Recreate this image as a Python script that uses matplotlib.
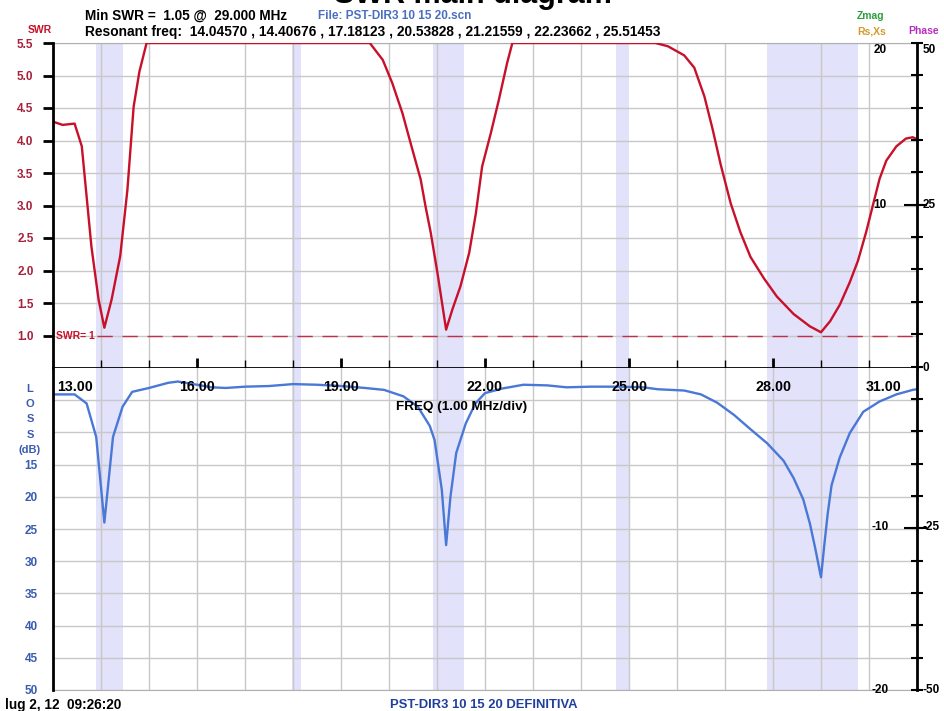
import matplotlib
matplotlib.use('Agg')
import matplotlib.pyplot as plt
import numpy as np

plt.rcParams['font.family'] = ['Liberation Sans', 'DejaVu Sans']
plt.rcParams['font.weight'] = 'bold'

# ---------- dati ----------
swr_freq = [13.0, 13.2, 13.45, 13.6, 13.7, 13.8, 13.95, 14.07, 14.22, 14.4, 14.55, 14.68,
            14.8, 14.95, 19.6, 19.87, 20.07, 20.28, 20.45, 20.66, 20.76, 20.87, 21.01,
            21.19, 21.32, 21.49, 21.67, 21.81, 21.94, 22.12, 22.29, 22.46, 22.57, 25.55,
            25.81, 26.15, 26.36, 26.57, 26.74, 26.91, 27.12, 27.32, 27.53, 27.81, 28.08,
            28.43, 28.77, 29.0, 29.19, 29.39, 29.6, 29.77, 29.94, 30.08, 30.22, 30.36,
            30.57, 30.77, 30.91, 31.0]
swr_vals = [4.29, 4.24, 4.26, 3.91, 3.14, 2.37, 1.55, 1.12, 1.55, 2.22, 3.24, 4.52,
            5.06, 5.5, 5.5, 5.24, 4.88, 4.42, 3.96, 3.4, 2.99, 2.58, 1.96,
            1.09, 1.4, 1.76, 2.27, 2.88, 3.6, 4.11, 4.63, 5.19, 5.5, 5.5,
            5.45, 5.31, 5.12, 4.68, 4.18, 3.63, 3.03, 2.59, 2.21, 1.88, 1.6,
            1.33, 1.14, 1.05, 1.22, 1.47, 1.82, 2.15, 2.59, 3.0, 3.41, 3.69,
            3.91, 4.03, 4.05, 4.02]

loss_freq = [13.0, 13.45, 13.7, 13.9, 14.07, 14.25, 14.45, 14.65, 15.0, 15.4, 15.6, 16.0,
             16.3, 16.6, 17.0, 17.5, 18.0, 18.5, 19.0, 19.5, 19.9, 20.3, 20.6, 20.85,
             20.95, 21.1, 21.19, 21.28, 21.4, 21.6, 21.8, 22.0, 22.35, 22.8, 23.3, 23.7,
             24.2, 24.8, 25.3, 25.6, 26.15, 26.5, 26.84, 27.19, 27.53, 27.88, 28.22,
             28.43, 28.63, 28.77, 28.88, 29.0, 29.07, 29.14, 29.22, 29.39, 29.6, 29.88,
             30.22, 30.57, 30.91, 31.0]
loss_vals = [4.1, 4.1, 5.5, 10.7, 24.0, 10.7, 6.0, 3.7, 3.1, 2.3, 2.1, 2.6,
             3.0, 3.1, 2.9, 2.8, 2.5, 2.6, 2.8, 3.1, 3.4, 4.4, 6.0, 9.0,
             11.2, 18.9, 27.5, 20.0, 13.2, 8.6, 5.5, 3.9, 3.2, 2.6, 2.7, 3.0,
             2.9, 2.9, 3.0, 3.3, 3.5, 4.1, 5.4, 7.3, 9.5, 11.7, 14.4,
             17.1, 20.4, 24.2, 28.0, 32.5, 27.4, 22.6, 18.2, 13.9, 10.1, 6.8,
             5.2, 4.1, 3.4, 3.3]

# bande radioamatoriali evidenziate
bands = [(13.9, 14.45), (17.98, 18.17), (20.92, 21.56), (24.73, 25.0), (27.88, 29.77)]

freq_ticks = [13, 16, 19, 22, 25, 28, 31]
swr_ticks = [1.0, 1.5, 2.0, 2.5, 3.0, 3.5, 4.0, 4.5, 5.0, 5.5]
loss_ticks = [15, 20, 25, 30, 35, 40, 45, 50]
resonant = ['14.04570', '14.40676', '17.18123', '20.53828', '21.21559', '22.23662', '25.51453']

W, H = 945, 711
C_SWR = '#c8102a'
C_LOSS = '#4a78d6'
C_BAND = '#e2e2fa'
C_GRID = '#c8c8c8'


def ft(x, y, s, **kw):
    # testo in coordinate pixel
    kw.setdefault('va', 'center')
    kw.setdefault('fontsize', 8)
    fig.text(x / W, 1 - y / H, s, **kw)


fig = plt.figure(figsize=(W / 100, H / 100), dpi=100)
fig.patch.set_facecolor('white')

L, R, T, M, B = 53, 917, 43, 368, 690
ax1 = fig.add_axes([L / W, 1 - M / H, (R - L) / W, (M - T) / H])
ax2 = fig.add_axes([L / W, 1 - B / H, (R - L) / W, (B - M) / H])

for ax in (ax1, ax2):
    ax.set_xlim(13, 31)
    for b0, b1 in bands:
        ax.axvspan(b0, b1, color=C_BAND, lw=0, zorder=0)
    ax.set_xticks(np.arange(13, 32, 1), minor=True)
    ax.grid(True, which='minor', axis='x', color=C_GRID, lw=1, zorder=1)
    ax.grid(True, which='major', axis='y', color=C_GRID, lw=1, zorder=1)
    for s in ('left', 'right'):
        ax.spines[s].set_visible(False)

# ---- pannello SWR ----
ax1.set_ylim(0.5, 5.5)
ax1.set_yticks(swr_ticks)
ax1.set_yticklabels(['%.1f' % v for v in swr_ticks], color='#a8203a', fontsize=8.5, fontweight='bold')
ax1.tick_params(axis='y', direction='out', length=7, width=2, pad=7)
ax1.set_xticks([16, 19, 22, 25, 28])
ax1.set_xticklabels([])
ax1.tick_params(axis='x', which='major', direction='inout', length=14, width=2)
ax1.tick_params(axis='x', which='minor', direction='in', length=6, width=1)
ax1.spines['bottom'].set_linewidth(2)
ax1.spines['top'].set_color('#b0b0b0')
ax1.plot(swr_freq, swr_vals, color=C_SWR, lw=1.7, zorder=4, solid_joinstyle='round')
ax1.plot([13.92, 31], [1.0, 1.0], color='#c03048', lw=1, dashes=(11, 7), zorder=3)
ft(56, 336, 'SWR= 1', color='#c8102a', fontsize=7.5, ha='left')

# ---- pannello LOSS ----
ax2.set_ylim(50, 0)
ax2.set_yticks(loss_ticks)
ax2.set_yticklabels([str(v) for v in loss_ticks], color='#3a5cb0', fontsize=8.5, fontweight='bold')
ax2.tick_params(axis='y', length=0, pad=11)
ax2.set_yticks([5, 10], minor=True)
ax2.grid(True, which='minor', axis='y', color=C_GRID, lw=1, zorder=1)
ax2.tick_params(axis='y', which='minor', length=0)
ax2.set_xticks([])
ax2.tick_params(axis='x', which='minor', length=0)
ax2.spines['top'].set_visible(False)
ax2.spines['bottom'].set_color('#b0b0b0')
ax2.plot(loss_freq, loss_vals, color=C_LOSS, lw=1.7, zorder=4, solid_joinstyle='round')

# ---- assi esterni (sinistra e destra) ----
axr = fig.add_axes([L / W, 1 - B / H, (R - L) / W, (B - T) / H])
axr.patch.set_visible(False)
axr.set_xlim(0, 1)
axr.set_ylim(-50, 50)
axr.set_xticks([])
axr.spines['top'].set_visible(False)
axr.spines['bottom'].set_visible(False)
axr.spines['left'].set_linewidth(2)
axr.spines['right'].set_linewidth(2)
axr.yaxis.tick_right()
axr.set_yticks(np.arange(-50, 51, 5))
axr.set_yticklabels([])
axr.tick_params(axis='y', direction='inout', length=9, width=1.5)
axr.hlines([25, -25], 0.985, 1.012, color='black', lw=1.5, clip_on=False)

# ---- testi ----
fig.text(0.5, 1 - 3.5 / H, 'SWR main diagram', ha='center', va='baseline', fontsize=22,
         fontweight='bold')
ft(85, 16, 'Min SWR =  1.05 @  29.000 MHz', ha='left', fontsize=9.8)
ft(318, 16, 'File: PST-DIR3 10 15 20.scn', ha='left', fontsize=8.5, color='#4a6fc0')
ft(85, 32, 'Resonant freq:  ' + ' , '.join(resonant), ha='left', fontsize=9.9)
ft(40, 30, 'SWR', ha='center', fontsize=7.5, color='#c8102a')
ft(857, 16, 'Zmag', ha='left', fontsize=7.5, color='#2e9e3e')
ft(857, 31, 'Rs,Xs', ha='left', fontsize=7.5, color='#d49a2a')
ft(908, 31, 'Phase', ha='left', fontsize=7.5, color='#b52ec0')

for lab, y in [('20', 50), ('10', 205), ('-10', 527), ('-20', 690)]:
    ft(880, y, lab, ha='center', fontsize=8.5)
for lab, y in [('50', 50), ('25', 205), ('0', 368), ('-25', 527), ('-50', 690)]:
    ft(923, y, lab, ha='left', fontsize=8.5)

for f in freq_ticks:
    x = L + (f - 13) * (R - L) / 18
    ha = 'center'
    if f == 13:
        x, ha = 57, 'left'
    elif f == 31:
        x, ha = 901, 'right'
    ft(x, 387, '%.2f' % f, ha=ha, fontsize=10.3)
ft(462, 407, 'FREQ (1.00 MHz/div)', ha='center', fontsize=9.7)

for lab, y in [('L', 389), ('O', 404), ('S', 419), ('S', 435), ('(dB)', 450)]:
    ft(30, y, lab, ha='center', fontsize=8, color='#3a5cb0')

ft(5, 705, 'lug 2, 12  09:26:20', ha='left', fontsize=9.8)
ft(390, 705, 'PST-DIR3 10 15 20 DEFINITIVA', ha='left', fontsize=9.4, color='#1f3f9f')

fig.savefig('out.png', dpi=100)
